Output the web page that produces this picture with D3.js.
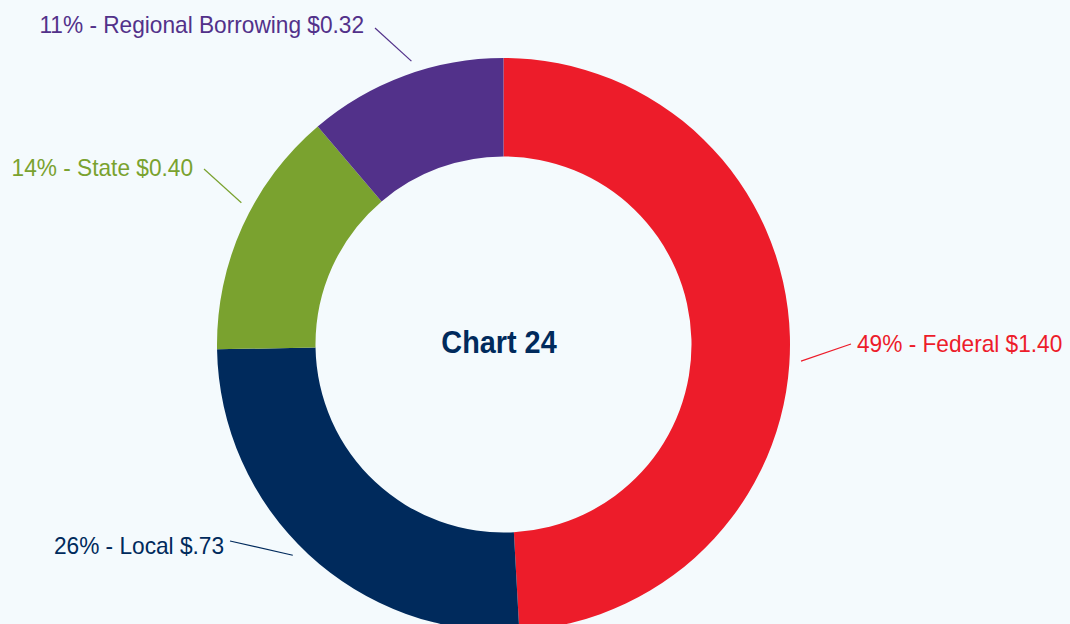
<!DOCTYPE html>
<html>
<head>
<meta charset="utf-8">
<script src="https://cdn.jsdelivr.net/npm/d3@7"></script>
<style>
  html, body { margin: 0; padding: 0; background: #f4fafd; }
  svg { display: block; }
  text { font-family: "Liberation Sans Narrow", "Arial Narrow", "Liberation Sans", sans-serif; }
</style>
</head>
<body>
<svg id="chart" width="1070" height="624"></svg>
<script>
// Funding sources (billions of dollars)
const categories = ["Federal", "Local", "State", "Regional Borrowing"];
const amounts = [1.40, 0.73, 0.40, 0.32];
const amountLabels = ["$1.40", "$.73", "$0.40", "$0.32"];
const percentLabels = ["49%", "26%", "14%", "11%"];
const colors = ["#ed1c2a", "#002a5c", "#7aa22f", "#52318a"];
const title = "Chart 24";

// Label placement: leader start angle (deg clockwise from 12 o'clock), leader end, text anchor point
const labelLayout = [
  { angle: 93.2, end: [851, 344], text: [857, 352], anchor: "start" },
  { angle: 225,  end: [230, 541], text: [224, 554], anchor: "end" },
  { angle: 298.4, end: [204, 169], text: [193, 176], anchor: "end" },
  { angle: 342,  end: [375, 28],  text: [364, 33],  anchor: "end" }
];

const width = 1070, height = 624;
const cx = 503.5, cy = 344.5;
const outerR = 286.5, innerR = 188, leaderR = 298;
const condense = 0.945;   // narrow the sans face horizontally

const svg = d3.select("#chart");
const g = svg.append("g").attr("transform", `translate(${cx},${cy})`);

const data = categories.map((c, i) => ({ name: c, value: amounts[i], i }));

const pie = d3.pie().value(d => d.value).sort(null);
const arc = d3.arc().innerRadius(innerR).outerRadius(outerR);

const arcs = pie(data);

g.selectAll("path.slice")
  .data(arcs)
  .join("path")
  .attr("class", "slice")
  .attr("d", arc)
  .attr("fill", d => colors[d.data.i]);

// Leader lines
g.selectAll("line.leader")
  .data(arcs)
  .join("line")
  .attr("class", "leader")
  .attr("x1", d => leaderR * Math.sin(labelLayout[d.data.i].angle * Math.PI / 180))
  .attr("y1", d => -leaderR * Math.cos(labelLayout[d.data.i].angle * Math.PI / 180))
  .attr("x2", d => labelLayout[d.data.i].end[0] - cx)
  .attr("y2", d => labelLayout[d.data.i].end[1] - cy)
  .attr("stroke", d => colors[d.data.i])
  .attr("stroke-width", 1.2);

// Slice labels
svg.selectAll("text.label")
  .data(arcs)
  .join("text")
  .attr("class", "label")
  .attr("transform", d => `translate(${labelLayout[d.data.i].text[0]},${labelLayout[d.data.i].text[1]}) scale(${condense},1)`)
  .attr("text-anchor", d => labelLayout[d.data.i].anchor)
  .attr("fill", d => colors[d.data.i])
  .attr("font-size", 24)
  .text(d => `${percentLabels[d.data.i]} - ${d.data.name} ${amountLabels[d.data.i]}`);

// Centre title
svg.append("text")
  .attr("transform", "translate(499,353) scale(0.93,1)")
  .attr("text-anchor", "middle")
  .attr("fill", "#002a5c")
  .attr("font-size", 31)
  .attr("font-weight", "bold")
  .text(title);
</script>
</body>
</html>
